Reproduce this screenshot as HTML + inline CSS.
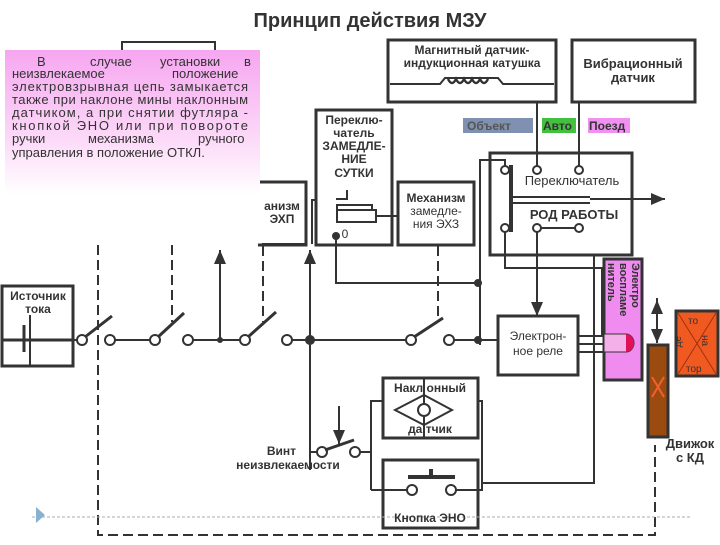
<!DOCTYPE html>
<html><head><meta charset="utf-8"><style>
body{margin:0;width:720px;height:540px;background:#fff;overflow:hidden;font-family:"Liberation Sans",sans-serif}
</style></head><body>
<svg width="720" height="540" viewBox="0 0 720 540" xmlns="http://www.w3.org/2000/svg" font-family="Liberation Sans, sans-serif">
<defs>
<linearGradient id="pg" x1="0" y1="0" x2="0" y2="1"><stop offset="0" stop-color="#f6a6f0"/><stop offset="0.6" stop-color="#fcd8f8"/><stop offset="1" stop-color="#fff"/></linearGradient>
<marker id="ar" markerWidth="8" markerHeight="8" refX="7" refY="4" orient="auto"><path d="M0,1 L7,4 L0,7z" fill="#333"/></marker>
</defs>
<g stroke="#333" fill="none" stroke-width="2">
<text x="370" y="27" font-size="20" font-weight="bold" text-anchor="middle" fill="#333" stroke="none">Принцип действия МЗУ</text>
<path d="M122,56 V42 H215 V56"/>
<path d="M258,182 H306 V245 H258" stroke-width="3"/>
<rect x="316" y="110" width="76" height="135" stroke-width="3"/>
<rect x="337" y="210" width="39" height="12"/>
<path d="M336,199 H347 V190"/>
<path d="M337,210 V205 H372 V210"/>
<rect x="398" y="182" width="76" height="63" stroke-width="3"/>
<path d="M376,216 H398"/>
<rect x="388" y="40" width="168" height="62" stroke-width="3"/>
<path d="M390,84 H440 L445,78 H498 L503,84 H554" stroke-width="2"/>
<path d="M448,79 q4,8 8,0 q4,8 8,0 q4,8 8,0 q4,8 8,0 q4,8 8,0" stroke-width="2.5"/>
<rect x="572" y="40" width="123" height="62" stroke-width="3"/>
<rect x="490" y="153" width="142" height="102" stroke-width="3"/>
<path d="M537,102 V166 M579,102 V166"/>
<circle cx="505" cy="170" r="4" fill="#fff"/><circle cx="537" cy="170" r="4" fill="#fff"/><circle cx="579" cy="170" r="4" fill="#fff"/>
<circle cx="505" cy="228" r="4" fill="#fff"/><circle cx="537" cy="228" r="4" fill="#fff"/><circle cx="579" cy="228" r="4" fill="#fff"/>
<path d="M541,228 H575"/>
<path d="M511,165 V232" stroke-width="4"/>
<path d="M512,197 H590 M512,203 H590" stroke-width="2"/>
<path d="M590,199 H665" marker-end="url(#ar)"/>
<path d="M480,345 V160 H505 V166"/>
<path d="M505,232 V268 H602 V336"/>
<path d="M537,232 V316" marker-end="url(#ar)"/>
<rect x="2" y="286" width="71" height="80" stroke-width="3"/>
<path d="M2,340 H74 M24,325 V352" stroke-width="3"/>
<path d="M30,315 V365" stroke-width="2"/>
<path d="M74,340 H78 M114,340 H151 M192,340 H241 M291,340 H407 M454,340 H498"/>
<g fill="#fff">
<circle cx="82" cy="340" r="5"/><circle cx="110" cy="340" r="5"/><circle cx="155" cy="340" r="5"/><circle cx="188" cy="340" r="5"/><circle cx="245" cy="340" r="5"/><circle cx="287" cy="340" r="5"/><circle cx="411" cy="340" r="5"/><circle cx="449" cy="340" r="5"/>
</g>
<path d="M85,337 L112,316 M158,337 L184,313 M248,337 L276,312 M414,337 L443,318" stroke-width="3"/>
<circle cx="220" cy="340" r="2" fill="#333"/><circle cx="310" cy="340" r="4" fill="#333"/><circle cx="478" cy="340" r="3" fill="#333"/><circle cx="478" cy="283" r="3" fill="#333"/><circle cx="336" cy="236" r="3" fill="#333"/>
<path d="M220,340 V250" marker-end="url(#ar)"/>
<path d="M310,470 V250" marker-end="url(#ar)"/>
<path d="M336,236 V283 H478"/>
<path d="M262,244 H306 M312,244 V200 H316"/>
<g stroke-dasharray="10,5">
<path d="M98,245 V535 H655 V445"/>
<path d="M172,245 V322 M263,246 V322 M438,246 V322"/>
</g>
<rect x="498" y="316" width="80" height="59" stroke-width="3"/>
<path d="M578,336 H603 M578,344 H603 M578,352 H603" stroke-width="2"/>
<rect x="604" y="259" width="38" height="121" fill="#f08cf0" stroke-width="3"/>
<path d="M604,334 H626 a8,9 0 0 1 0,18 H604z" fill="#f4b0e8" stroke-width="1"/>
<path d="M626,334 a8,9 0 0 1 0,18z" fill="#e0105a" stroke="none"/>
<rect x="648" y="345" width="20" height="92" fill="#9b4a10" stroke-width="3"/>
<path d="M652,377 L664,397 M664,377 L652,397" stroke="#f06030"/>
<path d="M657,298 V343" marker-end="url(#ar)"/>
<path d="M657,343 V300" marker-end="url(#ar)"/>
<rect x="676" y="311" width="42" height="65" fill="#f05a20" stroke-width="3"/>
<path d="M678,313 L716,374 M716,313 L678,374" stroke="#a03010" stroke-width="1"/>
<rect x="383" y="378" width="95" height="60" stroke-width="3"/>
<path d="M424,378 V438 M395,410 L424,395 L452,410 L424,425z" stroke-width="2"/>
<circle cx="424" cy="410" r="6" fill="#fff"/>
<rect x="383" y="460" width="95" height="68" stroke-width="3"/>
<path d="M408,477 H455 M431,477 V469" stroke-width="4"/>
<circle cx="412" cy="490" r="5" fill="#fff"/><circle cx="451" cy="490" r="5" fill="#fff"/>
<path d="M371,490 H407 M456,490 H482 V458 M371,490 V401 H383 M478,401 H482 V483 H594 V255"/>
<path d="M310,452 H317 M359,452 H371"/>
<circle cx="322" cy="452" r="5" fill="#fff"/><circle cx="355" cy="452" r="5" fill="#fff"/>
<path d="M325,450 L354,440" stroke-width="3"/>
<path d="M339,406 V444" marker-end="url(#ar)"/>
<path d="M32,517 H690" stroke="#aab" stroke-width="1" stroke-dasharray="3,2"/>
</g>
<path d="M36,507 L45,515 L36,523z" fill="#8ab0d0"/>
<rect x="5" y="50" width="255" height="145" fill="url(#pg)"/>
<g font-size="13" fill="#333">
<text x="37" y="66">В</text><text x="90" y="66">случае</text><text x="160" y="66">установки</text><text x="244" y="66">в</text>
<text x="12" y="78">неизвлекаемое</text><text x="172" y="78">положение</text>
<text x="12" y="91" textLength="236" lengthAdjust="spacing">электровзрывная цепь замыкается</text>
<text x="12" y="104" textLength="236" lengthAdjust="spacing">также при наклоне мины наклонным</text>
<text x="12" y="117" textLength="236" lengthAdjust="spacing">датчиком, а при снятии футляра -</text>
<text x="12" y="130" textLength="236" lengthAdjust="spacing">кнопкой ЭНО  или при повороте</text>
<text x="12" y="143">ручки</text><text x="88" y="143">механизма</text><text x="198" y="143">ручного</text>
<text x="12" y="157">управления в положение ОТКЛ.</text>
</g>
<g font-size="12" font-weight="bold" fill="#333" text-anchor="middle">
<text x="282" y="210">анизм</text><text x="282" y="223">ЭХП</text>
<text x="354" y="124">Переклю-</text><text x="354" y="137">чатель</text><text x="354" y="150">ЗАМЕДЛЕ-</text><text x="354" y="163">НИЕ</text><text x="354" y="177">СУТКИ</text>
<text x="436" y="202">Механизм</text><text x="436" y="215" font-weight="normal">замедле-</text><text x="436" y="228" font-weight="normal">ния ЭХЗ</text>
<text x="472" y="54">Магнитный датчик-</text><text x="472" y="67">индукционная катушка</text>
<text x="633" y="68" font-size="13">Вибрационный</text><text x="633" y="82" font-size="13">датчик</text>
<text x="572" y="185" font-size="13" font-weight="normal">Переключатель</text>
<text x="574" y="219" font-size="13">РОД РАБОТЫ</text>
<text x="38" y="300" font-size="12">Источник</text><text x="38" y="313" font-size="12">тока</text>
<text x="538" y="340" font-weight="normal">Электрон-</text><text x="538" y="355" font-weight="normal">ное реле</text>
<text x="690" y="448" font-size="13">Движок</text><text x="690" y="462" font-size="13">с КД</text>
<text x="430" y="392">Накл онный</text><text x="430" y="433">да тчик</text>
<text x="430" y="522">Кнопка ЭНО</text>
<text x="296" y="455" text-anchor="end" font-size="12">Винт</text><text x="288" y="469" font-size="12">неизвлекаемости</text>
<text x="345" y="238" font-weight="normal">0</text>
</g>
<rect x="463" y="118" width="70" height="15" fill="#8090b0"/><text x="467" y="130" font-size="12" font-weight="bold" fill="#555">Объект</text>
<rect x="542" y="118" width="34" height="15" fill="#44c040"/><text x="543" y="130" font-size="12" font-weight="bold" fill="#333">Авто</text>
<rect x="588" y="118" width="42" height="15" fill="#f090f0"/><text x="589" y="130" font-size="12" font-weight="bold" fill="#333">Поезд</text>
<g font-size="11" font-weight="bold" fill="#333" transform="translate(612,263) rotate(90)">
<text x="0" y="-20">Электро</text><text x="0" y="-8">воспламе</text><text x="0" y="4">нитель</text>
</g>
<g font-size="10" fill="#333">
<text x="688" y="324">то</text><text x="686" y="372">тор</text>
<text transform="translate(702,335) rotate(90)">на</text>
<text transform="translate(681,336) rotate(-90)" text-anchor="end">де</text>
</g>
</svg>
</body></html>
